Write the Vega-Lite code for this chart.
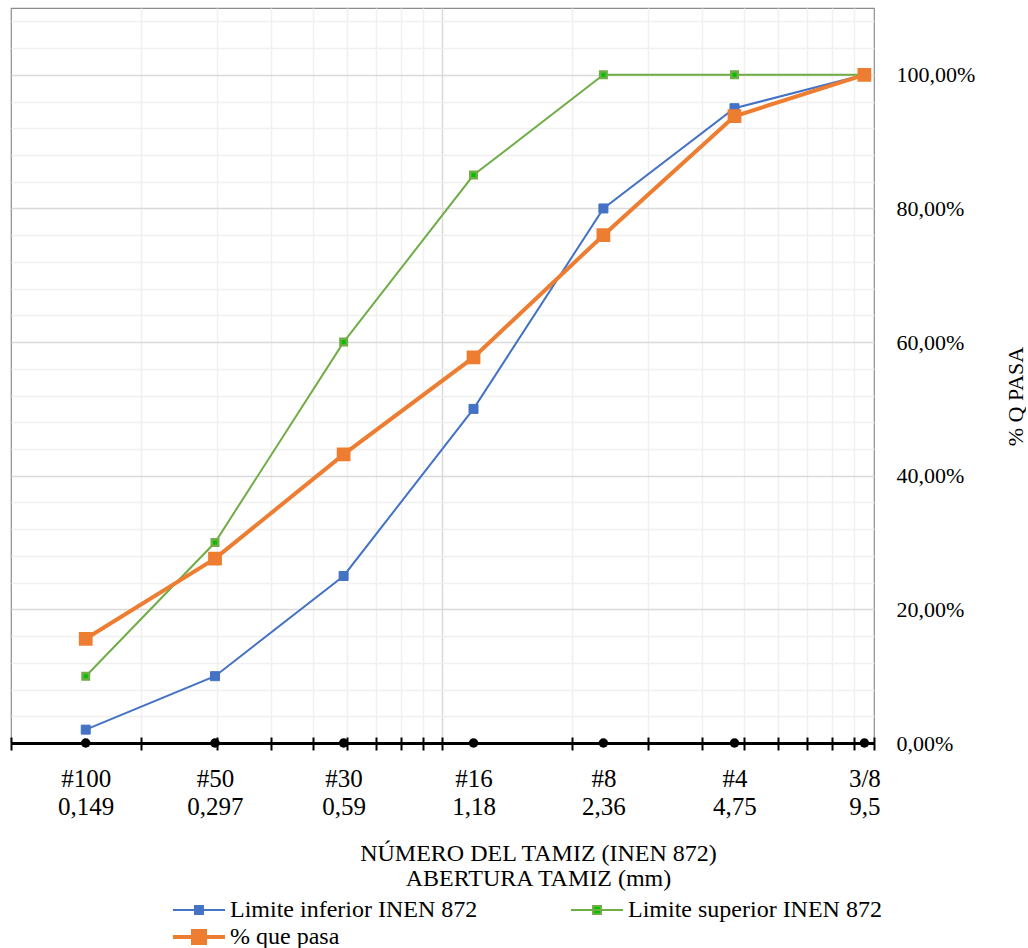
{
  "$schema": "https://vega.github.io/schema/vega-lite/v6.json",
  "width": 863,
  "height": 735,
  "padding": {"left": 10, "top": 8, "right": 0, "bottom": 0},
  "autosize": {"type": "pad"},
  "config": {
    "font": "'Liberation Serif', 'Times New Roman', Times, serif",
    "locale": {"number": {"decimal": ",", "thousands": ".", "grouping": [3], "currency": ["", " €"]}},
    "view": {"stroke": "#8c8c8c", "strokeWidth": 1.2},
    "axis": {"labelColor": "#000000", "titleColor": "#000000", "titleFontWeight": "normal", "labelFont": "'Liberation Serif', 'Times New Roman', Times, serif", "titleFont": "'Liberation Serif', 'Times New Roman', Times, serif"},
    "legend": {"labelColor": "#000000", "labelFont": "'Liberation Serif', 'Times New Roman', Times, serif", "titleFont": "'Liberation Serif', 'Times New Roman', Times, serif"}
  },
  "datasets": {
    "granulometria": [
      {"tamiz": "#100", "abertura": 0.149, "serie": "Limite inferior INEN 872", "pct": 0.02},
      {"tamiz": "#50", "abertura": 0.297, "serie": "Limite inferior INEN 872", "pct": 0.10},
      {"tamiz": "#30", "abertura": 0.59, "serie": "Limite inferior INEN 872", "pct": 0.25},
      {"tamiz": "#16", "abertura": 1.18, "serie": "Limite inferior INEN 872", "pct": 0.50},
      {"tamiz": "#8", "abertura": 2.36, "serie": "Limite inferior INEN 872", "pct": 0.80},
      {"tamiz": "#4", "abertura": 4.75, "serie": "Limite inferior INEN 872", "pct": 0.95},
      {"tamiz": "3/8", "abertura": 9.5, "serie": "Limite inferior INEN 872", "pct": 1.00},
      {"tamiz": "#100", "abertura": 0.149, "serie": "Limite superior INEN 872", "pct": 0.10},
      {"tamiz": "#50", "abertura": 0.297, "serie": "Limite superior INEN 872", "pct": 0.30},
      {"tamiz": "#30", "abertura": 0.59, "serie": "Limite superior INEN 872", "pct": 0.60},
      {"tamiz": "#16", "abertura": 1.18, "serie": "Limite superior INEN 872", "pct": 0.85},
      {"tamiz": "#8", "abertura": 2.36, "serie": "Limite superior INEN 872", "pct": 1.00},
      {"tamiz": "#4", "abertura": 4.75, "serie": "Limite superior INEN 872", "pct": 1.00},
      {"tamiz": "3/8", "abertura": 9.5, "serie": "Limite superior INEN 872", "pct": 1.00},
      {"tamiz": "#100", "abertura": 0.149, "serie": "% que pasa", "pct": 0.156},
      {"tamiz": "#50", "abertura": 0.297, "serie": "% que pasa", "pct": 0.276},
      {"tamiz": "#30", "abertura": 0.59, "serie": "% que pasa", "pct": 0.432},
      {"tamiz": "#16", "abertura": 1.18, "serie": "% que pasa", "pct": 0.577},
      {"tamiz": "#8", "abertura": 2.36, "serie": "% que pasa", "pct": 0.760},
      {"tamiz": "#4", "abertura": 4.75, "serie": "% que pasa", "pct": 0.938},
      {"tamiz": "3/8", "abertura": 9.5, "serie": "% que pasa", "pct": 1.00}
    ]
  },
  "data": {"name": "granulometria"},
  "layer": [
    {
      "mark": {"type": "line", "clip": false},
      "encoding": {
        "x": {
          "field": "abertura", "type": "quantitative",
          "scale": {"type": "log", "domain": [0.1, 10], "nice": false},
          "axis": {
            "orient": "bottom",
            "values": [0.1, 0.2, 0.3, 0.4, 0.5, 0.6, 0.7, 0.8, 0.9, 1, 2, 3, 4, 5, 6, 7, 8, 9, 10],
            "tickCount": 100,
            "labels": false, "title": null,
            "grid": true,
            "gridColor": {"condition": {"test": "datum.value === 1", "value": "#d9d9d9"}, "value": "#f0f0f0"},
            "gridOpacity": {"condition": {"test": "datum.value === 0.1 || datum.value === 10", "value": 0}, "value": 1},
            "gridWidth": 1.5,
            "ticks": true, "tickColor": "#000000", "tickWidth": 2, "tickSize": 7,
            "domain": true, "domainColor": "#000000", "domainWidth": 3
          }
        },
        "y": {
          "field": "pct", "type": "quantitative",
          "scale": {"domain": [0, 1.1], "nice": false, "zero": true},
          "axis": {
            "orient": "right",
            "values": [0, 0.04, 0.08, 0.12, 0.16, 0.2, 0.24, 0.28, 0.32, 0.36, 0.4, 0.44, 0.48, 0.52, 0.56, 0.6, 0.64, 0.68, 0.72, 0.76, 0.8, 0.84, 0.88, 0.92, 0.96, 1, 1.04, 1.08],
            "tickCount": 100,
            "format": ".2%",
            "labelExpr": "round(datum.value*100) % 20 === 0 ? datum.label : ''",
            "labelFontSize": 22, "labelPadding": 22, "labelOverlap": false, "labelBound": false, "labelFlush": false,
            "ticks": false, "tickSize": 0, "domain": false,
            "grid": true,
            "gridColor": {"condition": {"test": "round(datum.value*100) % 20 === 0", "value": "#d9d9d9"}, "value": "#f0f0f0"},
            "gridWidth": 1.5,
            "title": "% Q PASA", "titleFontSize": 22, "titleAngle": 270,
            "titleX": 141, "titleY": 388, "titleAlign": "center", "titleBaseline": "middle"
          }
        },
        "stroke": {
          "field": "serie", "type": "nominal",
          "scale": {"domain": ["Limite inferior INEN 872", "Limite superior INEN 872", "% que pasa"], "range": ["#4472C4", "#70AD47", "#ED7D31"]},
          "legend": {
            "orient": "none", "legendX": 176, "legendY": 890,
            "direction": "horizontal", "columns": 2, "columnPadding": 88, "rowPadding": 1,
            "title": null, "labelFontSize": 24, "labelOffset": 19, "labelLimit": 0,
            "symbolSize": 576,
            "encode": {
              "symbols": {
                "update": {
                  "shape": {"signal": "datum.value === '% que pasa' ? 'M-2.17,0H2.17M-0.5,-0.5H0.5V0.5H-0.5Z' : 'M-2.17,0H2.17M-0.33,-0.33H0.33V0.33H-0.33Z'"},
                  "size": {"value": 576},
                  "fill": {"scale": "fill", "field": "value"},
                  "stroke": {"scale": "stroke", "field": "value"},
                  "strokeWidth": {"signal": "datum.value === '% que pasa' ? 4 : 2"},
                  "opacity": {"value": 1}
                }
              }
            }
          }
        },
        "strokeWidth": {"condition": {"test": "datum.serie === '% que pasa'", "value": 4}, "value": 2}
      }
    },
    {
      "mark": {"type": "point", "shape": "square", "filled": true, "opacity": 1, "clip": false},
      "encoding": {
        "x": {
          "field": "abertura", "type": "quantitative",
          "scale": {"type": "log", "domain": [0.1, 10], "nice": false},
          "axis": {
            "orient": "bottom",
            "values": [0.1, 0.2, 0.3, 0.4, 0.5, 0.6, 0.7, 0.8, 0.9, 1, 2, 3, 4, 5, 6, 7, 8, 9, 10],
            "tickCount": 100,
            "labels": false, "title": null, "grid": false, "domain": false,
            "ticks": true, "tickColor": "#000000", "tickWidth": 2, "tickSize": -6
          }
        },
        "y": {"field": "pct", "type": "quantitative"},
        "fill": {
          "field": "serie", "type": "nominal",
          "scale": {"domain": ["Limite inferior INEN 872", "Limite superior INEN 872", "% que pasa"], "range": ["#4472C4", "#00C000", "#ED7D31"]},
          "legend": null
        },
        "stroke": {"field": "serie", "type": "nominal", "legend": null},
        "size": {
          "condition": [
            {"test": "datum.serie === '% que pasa'", "value": 150},
            {"test": "datum.serie === 'Limite superior INEN 872'", "value": 42}
          ],
          "value": 81
        },
        "strokeWidth": {
          "condition": [
            {"test": "datum.serie === '% que pasa'", "value": 1.5},
            {"test": "datum.serie === 'Limite superior INEN 872'", "value": 2.5}
          ],
          "value": 1
        }
      }
    },
    {
      "transform": [{"filter": "datum.serie === '% que pasa'"}],
      "mark": {"type": "point", "shape": "circle", "filled": true, "color": "#000000", "size": 90, "opacity": 1, "clip": false},
      "encoding": {
        "x": {
          "field": "abertura", "type": "quantitative",
          "scale": {"type": "log", "domain": [0.1, 10], "nice": false},
          "axis": {
            "orient": "bottom",
            "values": [0.149, 0.297, 0.59, 1.18, 2.36, 4.75, 9.5],
            "grid": false, "ticks": false, "tickSize": 0, "domain": false,
            "labelExpr": "datum.value < 0.2 ? ['#100','0,149'] : datum.value < 0.4 ? ['#50','0,297'] : datum.value < 0.8 ? ['#30','0,59'] : datum.value < 1.5 ? ['#16','1,18'] : datum.value < 3 ? ['#8','2,36'] : datum.value < 6 ? ['#4','4,75'] : ['3/8','9,5']",
            "labelFontSize": 25, "labelLineHeight": 28, "labelPadding": 23,
            "labelOverlap": false, "labelFlush": false, "labelBound": false,
            "title": ["NÚMERO DEL TAMIZ (INEN 872)", "ABERTURA TAMIZ (mm)"],
            "titleFontSize": 24, "titleLineHeight": 25, "titlePadding": 22, "titleX": 527, "titleFontWeight": "normal"
          }
        },
        "y": {"datum": 0, "type": "quantitative"}
      }
    }
  ],
  "resolve": {"axis": {"x": "independent"}}
}
